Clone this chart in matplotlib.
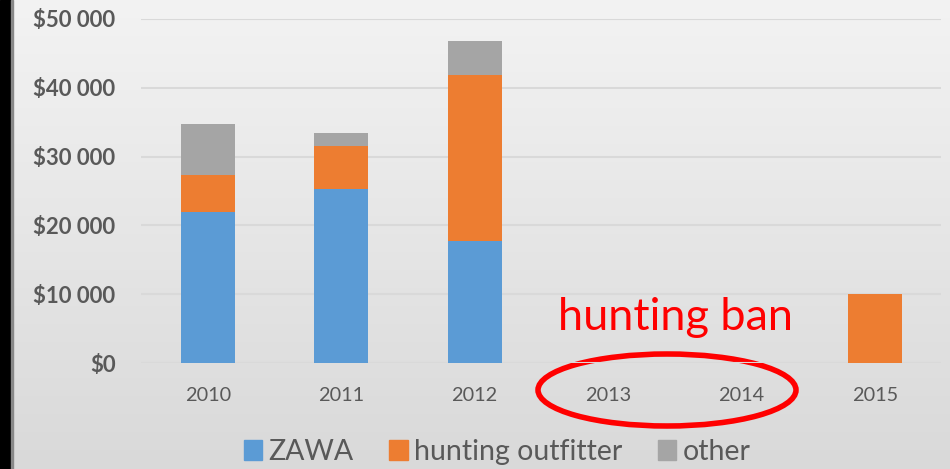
import numpy as np
import matplotlib.pyplot as plt
from matplotlib.patches import Patch, Ellipse, Rectangle

# datos
years = ['2010', '2011', '2012', '2013', '2014', '2015']
zawa = [22000, 25300, 17700, 0, 0, 0]
outfitter = [5300, 6200, 24200, 0, 0, 10000]
other = [7400, 1900, 4900, 0, 0, 0]
y_ticks = [0, 10000, 20000, 30000, 40000, 50000]
y_labels = ['$0', '$10 000', '$20 000', '$30 000', '$40 000', '$50 000']

c_zawa = '#5b9bd5'
c_out = '#ed7d31'
c_other = '#a5a5a5'
c_text = '#595959'

plt.rcParams['font.family'] = ['Lato', 'DejaVu Sans']

fig = plt.figure(figsize=(9.5, 4.69), dpi=100)

# fondo con degradado
bg = fig.add_axes([0, 0, 1, 1], zorder=-10)
grad = np.linspace(0.953, 0.851, 256).reshape(-1, 1)
bg.imshow(np.dstack([grad, grad, grad]), aspect='auto', extent=[0, 1, 0, 1])
bg.add_patch(Rectangle((0, 0), 11 / 950, 1, color='black'))
bg.add_patch(Rectangle((11 / 950, 0), 1.5 / 950, 1, color='#888888'))
bg.set_xlim(0, 1)
bg.set_ylim(0, 1)
bg.axis('off')

ax = fig.add_axes([141.3 / 950, 106 / 469, 800 / 950, 344 / 469])
ax.patch.set_alpha(0)
x = np.arange(len(years))
w = 0.405
bottom2 = [a + b for a, b in zip(zawa, outfitter)]
ax.bar(x, zawa, w, color=c_zawa, label='ZAWA', zorder=3)
ax.bar(x, outfitter, w, bottom=zawa, color=c_out, label='hunting outfitter', zorder=3)
ax.bar(x, other, w, bottom=bottom2, color=c_other, label='other', zorder=3)

ax.set_xlim(-0.5, len(years) - 0.5)
ax.set_ylim(0, 50000)
ax.set_yticks(y_ticks)
ax.set_yticklabels(y_labels, fontsize=16, fontweight='bold', color=c_text)
ax.set_xticks(x)
ax.set_xticklabels(years, fontsize=14.3, color=c_text)
ax.tick_params(length=0)
ax.tick_params(axis='y', pad=18.5)
ax.tick_params(axis='x', pad=17)
ax.grid(axis='y', color='#d9d9d9', linewidth=1.5, zorder=0)
for s in ax.spines.values():
    s.set_visible(False)

# anotacion de la prohibicion
fig.text(676 / 950, 1 - 318 / 469, 'hunting ban', color='#ff0000', fontsize=32.5,
         ha='center', va='center')
bg.add_patch(Ellipse((667 / 950, 1 - 390 / 469), 258 / 950, 72 / 469,
                     fill=False, edgecolor='#ff0000', linewidth=4))

handles = [Patch(color=c_zawa), Patch(color=c_out), Patch(color=c_other)]
fig.legend(handles, ['ZAWA', 'hunting outfitter', 'other'], loc='center',
           bbox_to_anchor=(497 / 950, 1 - 452 / 469), ncol=3, frameon=False,
           fontsize=20.5, labelcolor=c_text, handlelength=0.65, handleheight=0.65,
           handletextpad=0.22, columnspacing=1.25)

fig.savefig('out.png', dpi=100)
